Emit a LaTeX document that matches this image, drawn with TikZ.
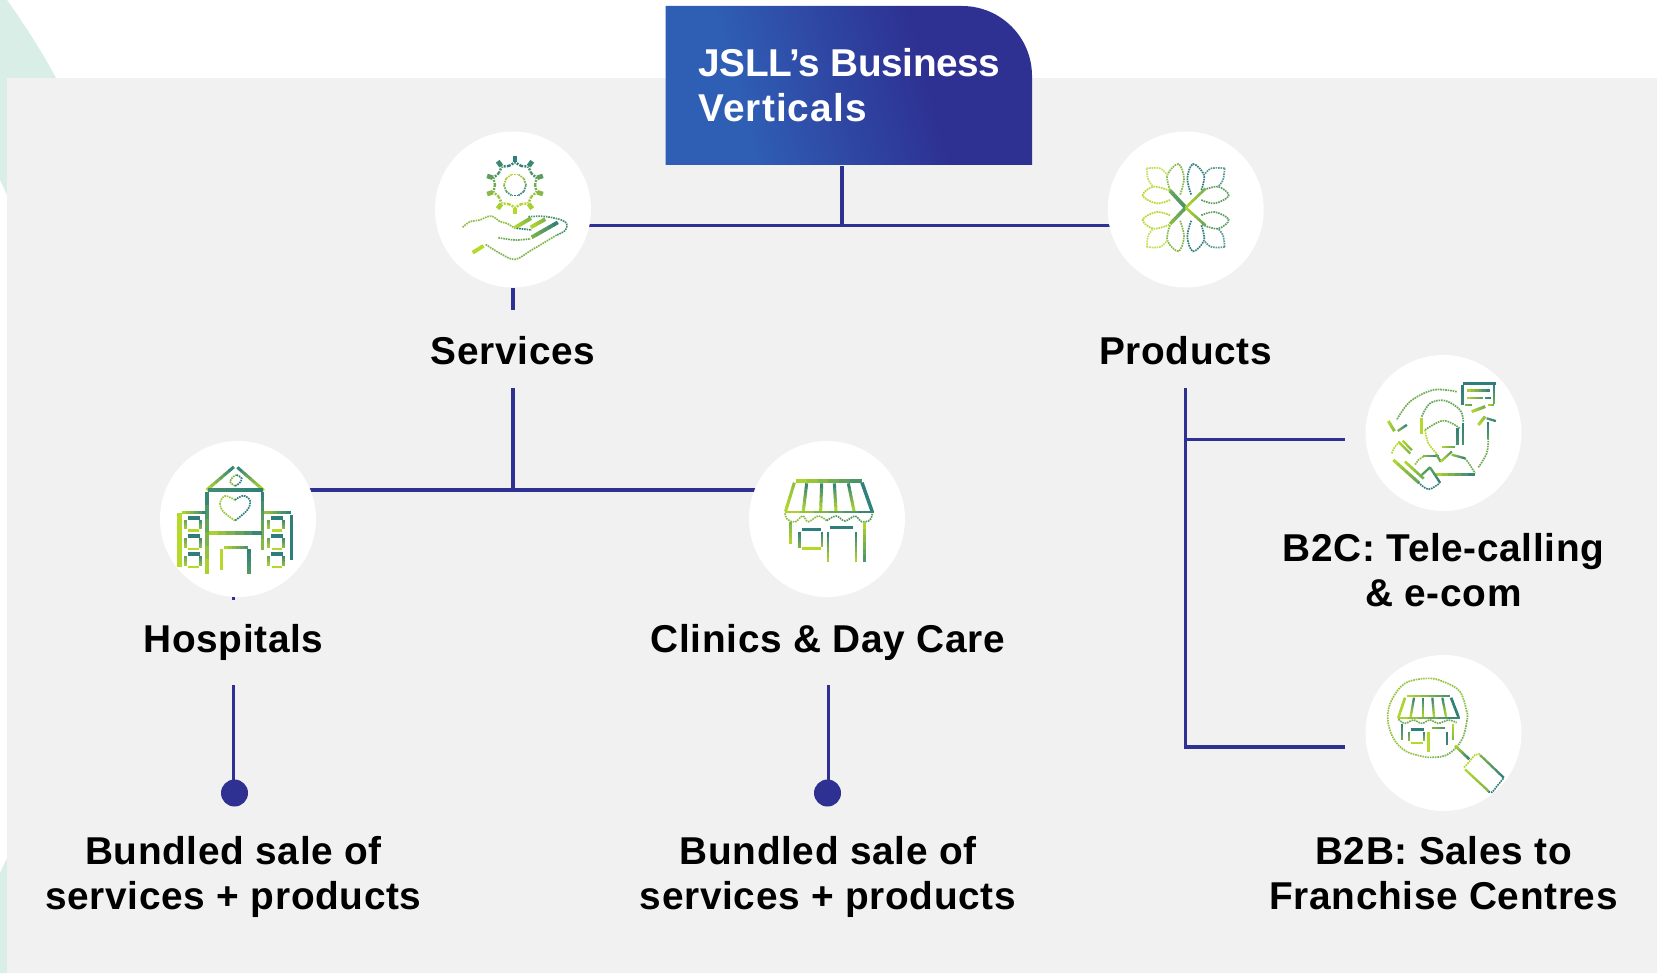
\documentclass[tikz,border=0pt]{standalone}
\usepackage{fontspec}
\setmainfont[LetterSpace=1.7]{Liberation Sans}
\newfontfamily\titleA[LetterSpace=-1]{Liberation Sans}
\newfontfamily\titleB[LetterSpace=2.8]{Liberation Sans}
\usetikzlibrary{calc}
\definecolor{L}{HTML}{B5D92A}
\definecolor{T}{HTML}{2E7F7B}
\definecolor{navy}{HTML}{2E3192}
\definecolor{panel}{HTML}{F1F1F1}
\definecolor{mint}{HTML}{DAEEE8}
\definecolor{hiA}{HTML}{2F5EB5}
\pgfdeclarelayer{back}\pgfdeclarelayer{lines}\pgfsetlayers{back,lines,main}
\pgfdeclarehorizontalshading{titleg}{100bp}{color(0bp)=(hiA); color(33bp)=(hiA); color(62bp)=(navy); color(100bp)=(navy)}
\tikzset{
 iconbg/.style={circle,fill=white,inner sep=0pt,minimum size=78pt},
 conn/.style={draw=navy,line width=1.7pt},
 enddot/.style={circle,fill=navy,inner sep=0pt,minimum size=13.5pt},
 lbl/.style={inner sep=0pt,align=center,font=\fontsize{19.4}{22.5}\selectfont\bfseries,text=black},
 dotline/.style={line width=.85pt,dash pattern=on .8pt off .45pt},
}
\newcommand\gs[5]{\foreach \ii in {0,...,5}{%
 \pgfmathsetmacro\pc{#4+(#5-#4)*(\ii+.5)/6}%
 \pgfmathsetmacro\ta{\ii/6}\pgfmathsetmacro\tb{(\ii+1.12)/6}%
 \draw[line width=#3*0.19pt,color=L!\pc!T] ($(#1)!\ta!(#2)$) -- ($(#1)!\tb!(#2)$);}}
\newcommand\dc[2]{\draw[dotline,color=#1] plot[smooth,tension=.6] coordinates {#2};}
\newcommand\winA[2]{%
 \gs{#1+10,#2}{#1+45,#2}{10}{0}{0}
 \gs{#1+3,#2+7}{#1+3,#2+34}{9}{40}{90}
 \gs{#1+48,#2+7}{#1+48,#2+34}{9}{10}{70}
 \gs{#1+12,#2+39}{#1+42,#2+39}{7}{100}{100}}
\begin{document}
\begin{tikzpicture}[x=.5pt,y=-.5pt]
\useasboundingbox (0,0) rectangle (1657,973);
\begin{pgfonlayer}{back}
 \fill[white] (0,0) rectangle (1657,973);
 \fill[mint] (0,0) -- (7,0) .. controls (25,25) and (42,52) .. (56,78) -- (56,195) -- (7,195) -- (0,180) -- cycle;
 \fill[mint] (7,858) -- (0,873) -- (0,973) -- (7,973) -- cycle;
 \fill[panel] (7,78) rectangle (1657,973);
 \path[shading=titleg,shading angle=15] (665.5,6) -- (962,6) .. controls (1000.7,6) and (1032,37.3) .. (1032,76) -- (1032,165) -- (665.5,165) -- cycle;
\end{pgfonlayer}
% nodes
\node[inner sep=0pt,minimum width=183.25pt,minimum height=79.5pt,anchor=north west] (title) at (665.5,6) {};
\node[lbl,anchor=west,align=left,text=white] (titletext) at (698,85) {{\titleA\bfseries JSLL’s Business}\\{\titleB\bfseries Verticals}};
\node[iconbg] (svc) at (513,209.5) {};
\node[iconbg] (prod) at (1185.7,209.5) {};
\node[iconbg] (hosp) at (238,519) {};
\node[iconbg] (clin) at (827,519) {};
\node[iconbg] (btc) at (1443.5,433) {};
\node[iconbg] (btb) at (1443.5,733) {};
\node[enddot] (hdot) at (234.5,793) {};
\node[enddot] (cdot) at (827.5,793) {};
\node[lbl,anchor=base] (lsvc) at (513,364.6) {Services};
\node[lbl,anchor=base] (lprod) at (1185.7,364.6) {Products};
\node[lbl,anchor=base] (lhosp) at (233.5,652) {Hospitals};
\node[lbl,anchor=base] (lclin) at (828,652) {Clinics \& Day Care};
\node[lbl] (lbtc) at (1443.5,570) {B2C: Tele-calling\\\& e-com};
\node[lbl] (lhb) at (233.5,877) {Bundled sale of\\services + products};
\node[lbl] (lcb) at (828,877) {Bundled sale of\\services + products};
\node[lbl] (lbtb) at (1443.5,873.5) {B2B: Sales to\\Franchise Centres};
% connector points
\coordinate (tj) at (842,225.5);
\coordinate (sA) at (513,310);
\coordinate (sB) at (513,388);
\coordinate (sj) at (513,490);
\coordinate (hA) at (233.5,600);
\coordinate (hB) at (233.5,685);
\coordinate (cB) at (828.5,685);
\coordinate (pB) at (1185.7,388);
\coordinate (pC) at (1345,439.5);
\coordinate (pD) at (1345,747);
\begin{pgfonlayer}{lines}
 \draw[conn] (tj |- title.south) -- (tj);
 \draw[conn] (svc |- tj) -- (prod |- tj);
 \draw[conn] (svc) -- (sA);
 \draw[conn] (sB) -- (sj);
 \draw[conn] (hosp |- sj) -- (clin |- sj);
 \draw[conn] (hA |- hosp) -- (hA);
 \draw[conn] (hB) -- (hB |- hdot);
 \draw[conn] (cB) -- (cB |- cdot);
 \draw[conn] (pB) -- (pB |- pD) -- (pD);
 \draw[conn] (pB |- pC) -- (pC);
\end{pgfonlayer}
% ---------- Services icon
\begin{scope}[shift={(400,0)},scale=1/3]
 \foreach \a in {0,36,...,324}{
  \pgfmathsetmacro\pp{50-50*sin(\a+18)}
  \draw[line width=2.3pt,color=L!\pp!T] ({345+70*cos(\a+18)},{555-70*sin(\a+18)}) -- ({345+88*cos(\a+18)},{555-88*sin(\a+18)});
  \pgfmathsetmacro\qq{50-50*sin(\a)}
  \draw[line width=1.2pt,color=L!\qq!T,dash pattern=on 1pt off .6pt] ({345+60*cos(\a)},{555-60*sin(\a)}) -- ({345+68*cos(\a+18)},{555-68*sin(\a+18)});
  \draw[line width=1.2pt,color=L!\qq!T,dash pattern=on 1pt off .6pt] ({345+60*cos(\a)},{555-60*sin(\a)}) -- ({345+68*cos(\a-18)},{555-68*sin(\a-18)});
  \pgfmathsetmacro\rr{100-\qq}
  \draw[dotline,color=L!\rr!T] ({345+33*cos(\a)},{555-33*sin(\a)}) -- ({345+33*cos(\a+36)},{555-33*sin(\a+36)});
 }
 \dc{L!70!T}{(188,682) (210,665) (240,660) (262,650) (280,650) (300,665) (320,670) (345,685)}
 \gs{345,683}{392,655}{10}{100}{60}
 \gs{392,682}{435,658}{10}{100}{60}
 \gs{395,712}{472,668}{10}{60}{0}
 \dc{T}{(350,685) (395,690)}
 \dc{T!80!L}{(385,650) (440,650) (495,665) (497,690) (470,705)}
 \dc{T!40!L}{(470,705) (395,750) (345,778) (300,760) (255,732)}
 \dc{L!50!T}{(295,713) (345,720) (392,716)}
 \gs{218,758}{250,738}{10}{100}{100}
\end{scope}
% ---------- Products icon
\begin{scope}[shift={(1080,120)},scale=1/3]
 \foreach \sx/\sy/\cc in {1/1/L,-1/1/T,1/-1/L,-1/-1/T}{
 \begin{scope}[shift={(317,263)},xscale=\sx,yscale=\sy]
  \dc{\cc!65!T}{(-47,-53) (-55,-98) (-22,-131) (-5,-88) (-17,-38)}
  \dc{\cc!65!L}{(-47,-23) (-87,-13) (-129,-36) (-97,-63) (-49,-51)}
  \dc{\cc!80!white}{(-117,-118) (-77,-118) (-55,-98)}
  \dc{\cc!80!white}{(-117,-118) (-112,-83) (-97,-63)}
 \end{scope}}
 \gs{270,212}{317,263}{10}{45}{20}
 \gs{270,312}{317,263}{9}{70}{30}
 \gs{317,263}{375,207}{7}{100}{55}
 \gs{317,263}{375,315}{7}{100}{40}
\end{scope}
% ---------- Hospital icon
\begin{scope}[shift={(140,430)},scale=1/3]
 \gs{200,180}{280,112}{8}{100}{0}
 \gs{292,112}{370,180}{8}{0}{100}
 \gs{205,181}{365,181}{10}{15}{0}
 \gs{201,186}{201,428}{10}{0}{100}
 \gs{368,186}{368,356}{9}{0}{70}
 \gs{207,309}{363,309}{10}{100}{0}
 \gs{252,352}{323,352}{9}{100}{20}
 \gs{245,358}{245,418}{9}{100}{100}
 \gs{327,358}{327,432}{10}{0}{30}
 \gs{125,248}{197,248}{9}{100}{0}
 \gs{118,250}{118,408}{12}{100}{100}
 \gs{373,248}{450,248}{9}{80}{0}
 \gs{455,255}{455,387}{8}{0}{0}
 \winA{133}{263}\winA{133}{318}\winA{133}{372}
 \winA{383}{263}\winA{383}{318}\winA{383}{372}
 \dc{L!80!T}{(285,272) (250,245) (240,220) (255,198) (285,210)}
 \dc{T}{(285,210) (310,197) (330,212) (322,240) (285,272)}
 \dc{L!60!T}{(285,168) (270,155) (280,140) (290,135)}
 \dc{T}{(290,135) (305,145) (298,160) (285,168)}
\end{scope}
% ---------- Clinic icon
\begin{scope}[shift={(730,430)},scale=1/3]
 \gs{198,153}{392,153}{10}{100}{15}
 \gs{193,158}{167,243}{8}{70}{100}
 \gs{396,158}{426,243}{9}{0}{5}
 \gs{230,160}{220,243}{8}{0}{100}
 \gs{275,160}{272,243}{8}{0}{100}
 \gs{313,160}{318,243}{8}{0}{100}
 \gs{355,160}{372,243}{8}{0}{100}
 \gs{165,246}{426,246}{5}{100}{0}
 \dc{L!70!T}{(165,250) (172,268) (195,276) (218,258) (235,275) (265,258) (290,272)}
 \dc{T!70!L}{(290,272) (318,258) (345,273) (375,258) (395,275) (420,270) (427,250)}
 \gs{182,275}{182,342}{7}{60}{100}
 \gs{215,298}{273,298}{7}{0}{0}
 \gs{209,305}{209,352}{7}{0}{60}
 \gs{276,305}{276,350}{7}{0}{70}
 \gs{215,356}{272,356}{7}{100}{100}
 \gs{300,292}{368,292}{7}{0}{0}
 \gs{294,305}{294,395}{6}{0}{100}
 \gs{378,305}{378,395}{5}{0}{100}
 \gs{403,277}{403,395}{7}{100}{20}
\end{scope}
% ---------- B2C icon
\begin{scope}[shift={(1350,350)},scale=1/3]
 \gs{340,100}{435,100}{8}{0}{0}
 \gs{337,105}{337,165}{7}{0}{10}
 \gs{433,105}{433,160}{6}{0}{50}
 \gs{345,165}{365,165}{6}{60}{40}
 \gs{415,165}{432,165}{6}{100}{50}
 \gs{352,122}{420,122}{8}{100}{0}
 \gs{352,144}{398,144}{6}{100}{30}
 \gs{405,144}{423,144}{6}{20}{0}
 \gs{365,185}{405,170}{8}{100}{50}
 \gs{385,225}{405,200}{8}{100}{70}
 \gs{410,205}{437,213}{6}{30}{0}
 \gs{413,215}{413,265}{6}{0}{30}
 \dc{L!50!T}{(415,265) (410,310) (385,352)}
 \dc{L!50!T}{(320,125) (250,120) (180,155) (140,210)}
 \gs{115,213}{133,243}{8}{100}{70}
 \gs{143,243}{170,225}{6}{60}{0}
 \dc{T!60!L}{(215,200) (240,160) (285,152) (330,180) (340,215)}
 \gs{215,205}{215,250}{8}{100}{100}
 \gs{338,220}{338,285}{6}{0}{20}
 \gs{323,235}{323,285}{8}{0}{20}
 \dc{T!50!L}{(225,240) (280,212) (330,235)}
 \dc{L}{(225,240) (235,280) (260,310)}
 \gs{275,290}{315,290}{5}{100}{40}
 \gs{220,318}{265,318}{6}{70}{0}
 \gs{258,312}{272,335}{6}{60}{30}
 \gs{272,335}{305,305}{6}{100}{30}
 \gs{305,314}{345,325}{6}{80}{0}
 \dc{T!50!L}{(345,325) (360,345) (375,370)}
 \gs{255,373}{372,373}{7}{100}{0}
 \dc{L!70!T}{(220,320) (205,330) (195,345)}
 \gs{130,330}{205,397}{8}{100}{40}
 \dc{L}{(125,310) (135,290) (150,275)}
 \gs{145,275}{180,310}{6}{100}{60}
 \gs{158,272}{185,300}{6}{100}{60}
 \gs{165,335}{220,385}{7}{100}{50}
 \gs{215,375}{240,352}{6}{40}{20}
 \gs{240,352}{270,398}{6}{40}{0}
 \dc{T}{(205,397) (235,418) (268,400)}
\end{scope}
% ---------- B2B icon
\begin{scope}[shift={(1350,650)},scale=1/3]
 \dc{L!75!T}{(350,185) (330,125) (280,95) (232,85) (165,100) (125,150) (113,205) (130,265) (170,305) (232,322)}
 \dc{T!45!L}{(232,322) (290,315) (335,270) (352,205) (350,185)}
 \gs{172,138}{298,138}{6}{100}{20}
 \gs{165,143}{145,203}{7}{90}{100}
 \gs{303,143}{325,200}{7}{5}{0}
 \gs{192,143}{182,200}{6}{0}{100}
 \gs{220,143}{220,200}{6}{0}{100}
 \gs{247,143}{252,200}{6}{0}{100}
 \gs{277,143}{288,200}{6}{0}{100}
 \gs{143,205}{325,205}{5}{100}{0}
 \dc{L!50!T}{(145,208) (165,220) (190,210) (215,220) (240,210) (265,220) (295,210) (320,218)}
 \gs{155,222}{155,270}{5}{0}{50}
 \gs{182,238}{220,238}{7}{0}{0}
 \gs{176,245}{176,272}{5}{30}{70}
 \gs{222,245}{222,272}{5}{0}{70}
 \gs{182,278}{218,278}{6}{100}{100}
 \gs{235,245}{235,305}{7}{100}{100}
 \gs{247,235}{285,235}{5}{60}{20}
 \gs{291,245}{291,285}{5}{0}{10}
 \gs{310,222}{310,270}{5}{100}{60}
 \gs{315,287}{357,327}{7}{100}{0}
 \gs{390,315}{460,382}{6}{60}{0}
 \gs{345,358}{415,423}{6}{100}{60}
 \dc{L}{(342,352) (358,335) (375,315) (390,312)}
 \dc{T}{(460,385) (442,407) (425,427) (413,423)}
\end{scope}
\end{tikzpicture}
\end{document}
